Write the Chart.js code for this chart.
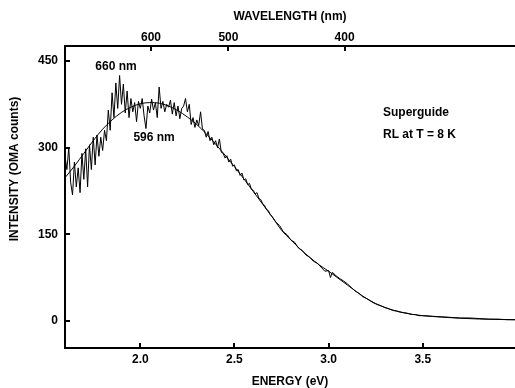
<!DOCTYPE html>
<html>
<head>
<meta charset="utf-8">
<script src="https://cdn.jsdelivr.net/npm/chart.js@4"></script>
<style>
html,body{margin:0;padding:0;background:#fff;}
#wrap{width:515px;height:388px;position:relative;}
</style>
</head>
<body>
<div id="wrap"><canvas id="c" width="515" height="388"></canvas></div>
<script>
// ---- data ----
const dataEnergy = [
1.60,1.61,1.62,1.63,1.64,1.65,1.66,1.67,1.68,1.69,
1.70,1.71,1.72,1.73,1.74,1.75,1.76,1.77,1.78,1.79,
1.80,1.81,1.82,1.83,1.84,1.85,1.86,1.87,1.88,1.89,
1.90,1.91,1.92,1.93,1.94,1.95,1.96,1.97,1.98,1.99,
2.00,2.01,2.02,2.03,2.04,2.05,2.06,2.07,2.08,2.09,
2.10,2.11,2.12,2.13,2.14,2.15,2.16,2.17,2.18,2.19,
2.20,2.21,2.22,2.23,2.24,2.25,2.26,2.27,2.28,2.29,
2.30,2.31,2.32,2.33,2.34,2.35,2.36,2.37,2.38,2.39,
2.40,2.41,2.42,2.43,2.44,2.45,2.46,2.47,2.48,2.49,
2.50,2.51,2.52,2.53,2.54,2.55,2.56,2.57,2.58,2.59,
2.60,2.61,2.62,2.63,2.64,2.65,2.66,2.67,2.68,2.69,
2.70,2.72,2.74,2.76,2.78,2.80,2.82,2.84,2.86,2.88,
2.90,2.92,2.94,2.96,2.98,3.00,3.01,3.02,3.04,3.06,
3.08,3.10,3.12,3.14,3.16,3.18,3.20,3.22,3.24,3.26,
3.28,3.30,3.32,3.34,3.36,3.38,3.40,3.42,3.44,3.46,
3.48,3.50,3.55,3.60,3.65,3.70,3.75,3.80,3.85,3.90,
3.95,3.99];
const dataCounts = [
285,262,300,240,218,275,232,265,222,290,
245,298,232,305,262,318,270,322,285,318,
295,330,312,365,330,395,352,412,368,425,
375,410,360,398,352,385,362,378,345,380,
368,385,355,333,372,360,384,365,378,352,
405,368,380,362,375,370,382,358,378,355,
372,350,368,372,385,362,375,340,352,335,
348,338,362,332,330,318,328,312,318,305,
312,300,315,292,290,282,286,275,280,268,
270,260,262,252,256,244,246,236,238,228,
226,220,222,212,210,203,200,193,191,184,
181,171,165,154,149,140,136,126,122,114,
110,103,100,93,86,87,75,84,78,73,
69,64,58,52,48,42,39,35,31,28,
26,23,21,18,17,15,14,13,11,11,
9,9,8,7,6,5,5,4,3,3,
2,2];
const fitEnergy = [1.60,1.65,1.70,1.75,1.80,1.85,1.90,1.95,2.00,2.05,2.10,2.15,2.20,2.25,2.30,2.35,2.40,2.45,2.50,2.55,2.60,2.65,2.70,2.75,2.80,2.85,2.90,2.95,3.00,3.05,3.10,3.15,3.20,3.25,3.30,3.35,3.40,3.45,3.50,3.60,3.70,3.80,3.90,3.99];
const fitCounts = [248,268,290,312,332,348,361,370,376,378,377,372,364,353,340,324,306,287,267,246,224,202,180,157,140,124,110,97,86,74,62,50,39,30,23,18,14,11,9,6.5,4.5,3.2,2.4,2];
const energyTicks = [2.0,2.5,3.0,3.5];
const wavelengthTicks = [600,500,400];
const intensityTicks = [0,150,300,450];
const HC = 1234; // eV*nm conversion used for the top axis
const annotations = [
  {text:'660 nm', e:1.871, v:441, align:'center'},
  {text:'596 nm', e:2.073, v:318, align:'center'},
  {text:'Superguide', e:3.289, v:360, align:'left'},
  {text:'RL at T = 8 K', e:3.289, v:322, align:'left'}
];

const FONT = '"Liberation Sans", Arial, Helvetica, sans-serif';
const toXY = (xs, ys) => xs.map((x,i)=>({x:x, y:ys[i]}));

const inwardTicks = {
  id:'inwardTicks',
  afterDraw(chart){
    const ctx = chart.ctx, ca = chart.chartArea;
    ctx.save();
    ctx.strokeStyle = '#000';
    ctx.lineWidth = 2;
    const L = 5;
    const sx = chart.scales.x, sx2 = chart.scales.x2, sy = chart.scales.y;
    sx.ticks.forEach((t,i)=>{ const p=Math.round(sx.getPixelForTick(i)); ctx.beginPath(); ctx.moveTo(p,ca.bottom); ctx.lineTo(p,ca.bottom-L); ctx.stroke(); });
    sx2.ticks.forEach((t,i)=>{ const p=Math.round(sx2.getPixelForTick(i)); ctx.beginPath(); ctx.moveTo(p,ca.top); ctx.lineTo(p,ca.top+L); ctx.stroke(); });
    sy.ticks.forEach((t,i)=>{ const p=Math.round(sy.getPixelForTick(i)); ctx.beginPath(); ctx.moveTo(ca.left,p); ctx.lineTo(ca.left+L,p); ctx.stroke(); });
    // annotations
    ctx.fillStyle = '#000';
    ctx.font = 'bold 12px ' + FONT;
    ctx.textBaseline = 'middle';
    annotations.forEach(a=>{
      ctx.textAlign = a.align;
      ctx.fillText(a.text, sx.getPixelForValue(a.e), sy.getPixelForValue(a.v));
    });
    // y axis title
    ctx.save();
    ctx.translate(15, sy.getPixelForValue(263));
    ctx.rotate(-Math.PI/2);
    ctx.textAlign = 'center';
    ctx.fillText('INTENSITY (OMA counts)', 0, 0);
    ctx.restore();
    ctx.restore();
  }
};

new Chart(document.getElementById('c'), {
  type:'scatter',
  data:{datasets:[
    {data: toXY(dataEnergy, dataCounts), showLine:true, borderColor:'#000', borderWidth:1, pointRadius:0, tension:0},
    {data: toXY(fitEnergy, fitCounts), showLine:true, borderColor:'#000', borderWidth:1, pointRadius:0, cubicInterpolationMode:'monotone'}
  ]},
  options:{
    responsive:false, animation:false,
    layout:{padding:0},
    plugins:{legend:{display:false}, tooltip:{enabled:false}},
    scales:{
      x:{type:'linear', position:'bottom', min:1.6, max:3.99,
        afterBuildTicks: s=>{ s.ticks = energyTicks.map(v=>({value:v})); },
        afterFit: s=>{ s.height = 40; },
        ticks:{color:'#000', font:{family:FONT, size:12, weight:'bold'}, padding:4, maxRotation:0, autoSkip:false, callback:v=>Number(v).toFixed(1)},
        grid:{display:false, drawTicks:false},
        border:{display:true, color:'#000', width:2},
        title:{display:true, text:'ENERGY (eV)', color:'#000', font:{family:FONT, size:12, weight:'bold', lineHeight:1}, padding:{top:0,bottom:0}}
      },
      x2:{type:'linear', position:'top', min:1.6, max:3.99,
        afterBuildTicks: s=>{ s.ticks = wavelengthTicks.map(w=>({value:HC/w})); },
        afterFit: s=>{ s.height = 46; },
        ticks:{color:'#000', font:{family:FONT, size:12, weight:'bold'}, padding:1, maxRotation:0, autoSkip:false, callback:v=>String(Math.round(HC/v))},
        grid:{display:false, drawTicks:false},
        border:{display:true, color:'#000', width:2},
        title:{display:true, text:'WAVELENGTH (nm)', color:'#000', font:{family:FONT, size:12, weight:'bold', lineHeight:1}, padding:{top:11,bottom:0}}
      },
      y:{type:'linear', position:'left', min:-47, max:476,
        afterBuildTicks: s=>{ s.ticks = intensityTicks.map(v=>({value:v})); },
        afterFit: s=>{ s.width = 65; },
        ticks:{color:'#000', font:{family:FONT, size:12, weight:'bold'}, padding:7, autoSkip:false},
        grid:{display:false, drawTicks:false},
        border:{display:true, color:'#000', width:2}
      }
    }
  },
  plugins:[inwardTicks]
});
</script>
</body>
</html>
